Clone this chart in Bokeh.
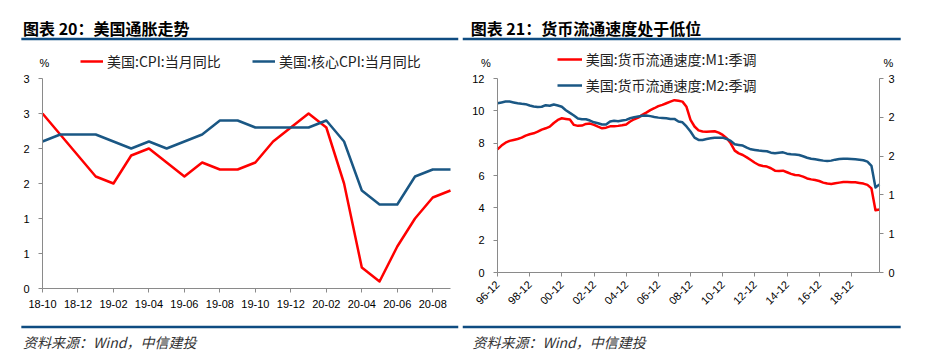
import math
from bokeh.plotting import figure
from bokeh.models import (Range1d, LinearAxis, FixedTicker, NumeralTickFormatter,
                          Legend, LegendItem, Label)
from bokeh.layouts import row, column
from bokeh.embed import file_html
from bokeh.resources import INLINE
from bokeh.core.properties import value

# ---------------- data: chart 20 (monthly, 2018-10 .. 2020-09) ----------------
cpi_months = ["18-10", "18-11", "18-12", "19-01", "19-02", "19-03", "19-04", "19-05",
              "19-06", "19-07", "19-08", "19-09", "19-10", "19-11", "19-12", "20-01",
              "20-02", "20-03", "20-04", "20-05", "20-06", "20-07", "20-08", "20-09"]
cpi_yoy = [2.5, 2.2, 1.9, 1.6, 1.5, 1.9, 2.0, 1.8, 1.6, 1.8, 1.7, 1.7,
           1.8, 2.1, 2.3, 2.5, 2.3, 1.5, 0.3, 0.1, 0.6, 1.0, 1.3, 1.4]
core_cpi_yoy = [2.1, 2.2, 2.2, 2.2, 2.1, 2.0, 2.1, 2.0, 2.1, 2.2, 2.4, 2.4,
                2.3, 2.3, 2.3, 2.3, 2.4, 2.1, 1.4, 1.2, 1.2, 1.6, 1.7, 1.7]
cpi_tick_labels = ["18-10", "18-12", "19-02", "19-04", "19-06", "19-08",
                   "19-10", "19-12", "20-02", "20-04", "20-06", "20-08"]
cpi_y_ticks = [0, 0.5, 1.0, 1.5, 2.0, 2.5, 3.0]

# ---------------- data: chart 21 (quarterly, 1996-12 .. 2020-09) ----------------
m1_velocity = [7.62, 7.85, 8.03, 8.14, 8.20, 8.26, 8.34, 8.47, 8.55, 8.61,
               8.71, 8.84, 8.92, 9.02, 9.25, 9.44, 9.54, 9.50, 9.46, 9.13,
               9.07, 9.09, 9.19, 9.21, 9.13, 9.02, 8.92, 8.96, 9.04, 9.04,
               9.07, 9.11, 9.16, 9.34, 9.48, 9.58, 9.75, 9.89, 10.04, 10.16,
               10.29, 10.37, 10.47, 10.57, 10.66, 10.62, 10.57, 10.25, 9.44, 9.03,
               8.79, 8.72, 8.70, 8.72, 8.74, 8.65, 8.51, 8.30, 7.99, 7.54,
               7.37, 7.27, 7.12, 6.96, 6.79, 6.65, 6.59, 6.55, 6.45, 6.30,
               6.28, 6.30, 6.20, 6.10, 6.03, 6.01, 5.93, 5.82, 5.76, 5.72,
               5.66, 5.56, 5.50, 5.48, 5.52, 5.56, 5.60, 5.60, 5.58, 5.58,
               5.54, 5.50, 5.42, 5.20, 3.85, 3.90]
m2_velocity = [2.618, 2.630, 2.643, 2.643, 2.630, 2.618, 2.608, 2.603, 2.583, 2.568,
               2.558, 2.563, 2.588, 2.578, 2.598, 2.583, 2.563, 2.510, 2.468, 2.428,
               2.380, 2.370, 2.370, 2.350, 2.323, 2.308, 2.288, 2.288, 2.335, 2.345,
               2.340, 2.350, 2.360, 2.385, 2.400, 2.413, 2.423, 2.428, 2.418, 2.405,
               2.395, 2.390, 2.385, 2.375, 2.375, 2.335, 2.323, 2.258, 2.180, 2.085,
               2.050, 2.050, 2.065, 2.075, 2.085, 2.085, 2.085, 2.065, 2.035, 1.983,
               1.973, 1.963, 1.930, 1.905, 1.895, 1.885, 1.880, 1.875, 1.853, 1.843,
               1.853, 1.858, 1.838, 1.828, 1.823, 1.818, 1.798, 1.775, 1.760, 1.750,
               1.740, 1.730, 1.725, 1.730, 1.745, 1.755, 1.760, 1.760, 1.755, 1.750,
               1.745, 1.735, 1.715, 1.650, 1.313, 1.363]
vel_tick_labels = ["96-12", "98-12", "00-12", "02-12", "04-12", "06-12",
                   "08-12", "10-12", "12-12", "14-12", "16-12", "18-12"]
vel_left_ticks = [0, 2, 4, 6, 8, 10, 12]
vel_right_ticks = [0, 0.6, 1.2, 1.8, 2.4, 3.0]

# ---------------- texts ----------------
title_left = "图表 20：美国通胀走势"
title_right = "图表 21：货币流通速度处于低位"
source_text = "资料来源：Wind，中信建投"
lbl_cpi = "美国:CPI:当月同比"
lbl_core = "美国:核心CPI:当月同比"
lbl_m1 = "美国:货币流通速度:M1:季调"
lbl_m2 = "美国:货币流通速度:M2:季调"

# ---------------- styles / layout (pixels) ----------------
CJK = "Noto Sans CJK SC"
NUM = "Liberation Sans"
RED = "#ff0000"
BLUE = "#1a5784"
RULE = "#0f4c81"
AXIS = "#8a8a8a"
W_LEFT, W_RIGHT = 460, 465
H_HEAD, H_CHART, H_FOOT = 48, 268, 43
PAD = 2  # frame inset inside each chart canvas


def canvas(w, h):
    return figure(width=w, height=h, x_range=Range1d(0, w), y_range=Range1d(h, 0),
                  x_axis_type=None, y_axis_type=None, toolbar_location=None,
                  output_backend="svg", min_border=0, outline_line_color=None)


def header(w, text, tx, r0, r1):
    p = canvas(w, H_HEAD)
    p.text(x=[tx], y=[27], text=[text], text_font=value(CJK), text_font_style="bold",
           text_font_size="16px", text_color="#000000", text_baseline="middle",
           text_align="left")
    p.line(x=[r0, r1], y=[38.5, 38.5], line_color=RULE, line_width=2.5)
    return p


def footer(w, tx, r0, r1):
    p = canvas(w, H_FOOT)
    p.line(x=[r0, r1], y=[10.5, 10.5], line_color=RULE, line_width=2.5)
    p.text(x=[tx], y=[25.7], text=[source_text], text_font=value(CJK),
           text_font_style="italic", text_font_size="14px", text_color="#333333",
           text_baseline="middle", text_align="left")
    return p


def span_range(d0, d1, p0, p1, f0, f1):
    """Range whose data d0..d1 lands on pixels p0..p1 of a frame edge f0..f1."""
    k = (d1 - d0) / (p1 - p0)
    return Range1d(d0 - (p0 - f0) * k, d1 + (f1 - p1) * k)


def style_axis(ax, size="11px", standoff=5):
    ax.axis_line_color = AXIS
    ax.major_tick_line_color = AXIS
    ax.minor_tick_line_color = None
    ax.major_tick_in = 0
    ax.major_tick_out = 4
    ax.major_label_text_font = NUM
    ax.major_label_text_font_size = size
    ax.major_label_text_color = "#000000"
    ax.major_label_standoff = standoff


def pct(x, y, dx, dy, y_range_name="default"):
    return Label(x=x, y=y, x_units="data", y_units="data", x_offset=dx, y_offset=dy,
                 text="%", text_font=NUM, text_font_size="11px", text_color="#000000",
                 text_align="center", text_baseline="middle", y_range_name=y_range_name)


def chart(w, xr, yr):
    p = figure(width=w, height=H_CHART, x_range=xr, y_range=yr,
               x_axis_type=None, y_axis_type=None, toolbar_location=None,
               output_backend="svg", min_border=PAD, outline_line_color=None)
    return p


# page y of chart canvas: 48..316 -> frame page y 50..314
FT, FB = H_HEAD + PAD, H_HEAD + H_CHART - PAD

# ---------------- chart 20 ----------------
n1 = len(cpi_months)
mi = list(range(n1))
c1 = chart(W_LEFT,
           span_range(0, n1 - 1, 42, 450, PAD, W_LEFT - PAD),
           span_range(0, 3, 288, 78, FB, FT))
r_cpi = c1.line(mi, cpi_yoy, line_color=RED, line_width=2.5, line_join="round")
r_core = c1.line(mi, core_cpi_yoy, line_color=BLUE, line_width=2.5, line_join="round")

ax1x = LinearAxis(fixed_location=0, bounds=(0, n1 - 1),
                  ticker=FixedTicker(ticks=[cpi_months.index(t) for t in cpi_tick_labels]))
ax1x.major_label_overrides = {cpi_months.index(t): t for t in cpi_tick_labels}
style_axis(ax1x, standoff=7)
c1.add_layout(ax1x, "below")
ax1y = LinearAxis(fixed_location=0, bounds=(0, 3), ticker=FixedTicker(ticks=cpi_y_ticks),
                  formatter=NumeralTickFormatter(format="0"))
style_axis(ax1y, standoff=9)
c1.add_layout(ax1y, "left")

leg1 = Legend(items=[LegendItem(label=lbl_cpi, renderers=[r_cpi]),
                     LegendItem(label=lbl_core, renderers=[r_core])],
              orientation="horizontal", location=(80 - PAD, FB - 70.5), margin=0,
              padding=0, spacing=20, glyph_width=23, glyph_height=14, label_height=14,
              label_standoff=4, label_width=125, label_text_font=CJK,
              label_text_font_size="14px", label_text_color="#222222",
              border_line_color=None, background_fill_alpha=0)
c1.add_layout(leg1)
c1.add_layout(pct(0, 3, 2, 16))

# ---------------- chart 21 ----------------
n2 = len(m1_velocity)
qi = list(range(n2))
OX2 = W_LEFT
c2 = chart(W_RIGHT,
           span_range(0, n2 - 1, 497 - OX2, 879 - OX2, PAD, W_RIGHT - PAD),
           span_range(0, 12, 272, 78, FB, FT))
c2.extra_y_ranges = {"right": span_range(0, 3, 272, 78, FB, FT)}
r_m1 = c2.line(qi, m1_velocity, line_color=RED, line_width=2.5, line_join="round")
r_m2 = c2.line(qi, m2_velocity, line_color=BLUE, line_width=2.5, line_join="round",
               y_range_name="right")

ax2x = LinearAxis(fixed_location=0, bounds=(0, n2 - 1),
                  ticker=FixedTicker(ticks=[8 * i for i in range(len(vel_tick_labels))]))
ax2x.major_label_overrides = {8 * i: t for i, t in enumerate(vel_tick_labels)}
ax2x.major_label_orientation = math.pi / 4
style_axis(ax2x, standoff=6)
c2.add_layout(ax2x, "below")
ax2l = LinearAxis(fixed_location=0, bounds=(0, 12), ticker=FixedTicker(ticks=vel_left_ticks))
style_axis(ax2l, standoff=9)
c2.add_layout(ax2l, "left")
ax2r = LinearAxis(fixed_location=n2 - 1, y_range_name="right", bounds=(0, 3),
                  ticker=FixedTicker(ticks=vel_right_ticks),
                  formatter=NumeralTickFormatter(format="0"))
style_axis(ax2r, standoff=5)
c2.add_layout(ax2r, "right")

leg2 = Legend(items=[LegendItem(label=lbl_m1, renderers=[r_m1]),
                     LegendItem(label=lbl_m2, renderers=[r_m2])],
              orientation="vertical", location=(556.7 - OX2 - PAD, FB - 94.7), margin=0,
              padding=0, spacing=6, glyph_width=25, glyph_height=14, label_height=14,
              label_standoff=4, label_text_font=CJK, label_text_font_size="14px",
              label_text_color="#222222", border_line_color=None,
              background_fill_alpha=0)
c2.add_layout(leg2)
c2.add_layout(pct(0, 12, -11.5, 15.5))
c2.add_layout(pct(n2 - 1, 3, 9, 15.5, y_range_name="right"))

# ---------------- layout ----------------
h1 = header(W_LEFT, title_left, 20.7, 19, W_LEFT)
h2 = header(W_RIGHT, title_right, 8.3, 0, 442)
f1 = footer(W_LEFT, 20.7, 19, W_LEFT)
f2 = footer(W_RIGHT, 10, 0, 442)

page = row(column(h1, c1, f1), column(h2, c2, f2))
open("out.html", "w").write(file_html(page, INLINE))
